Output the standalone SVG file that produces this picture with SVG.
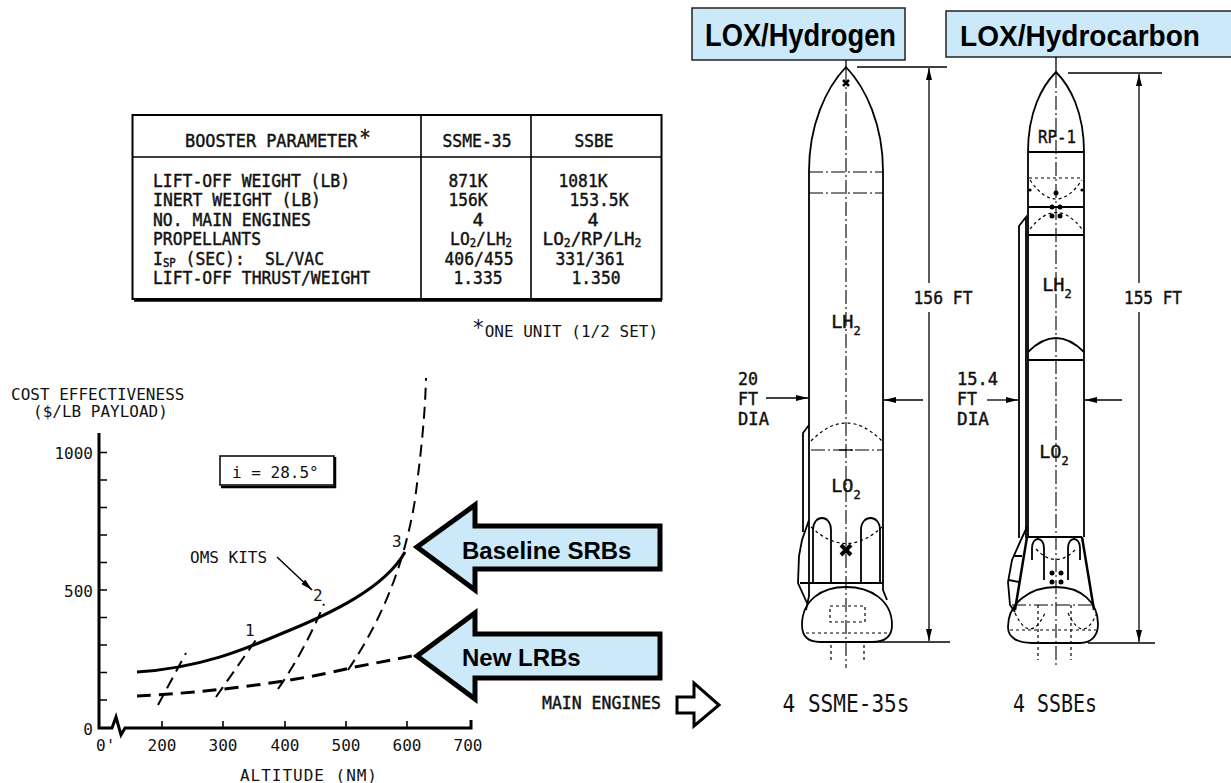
<svg xmlns="http://www.w3.org/2000/svg" width="1231" height="783" viewBox="0 0 1231 783">
<defs>
<style>
.m{font-family:"DejaVu Sans Mono","Liberation Mono",monospace;font-size:16.4px;fill:#111;stroke:#111;stroke-width:0.3px}
.t{font-family:"DejaVu Sans Mono","Liberation Mono",monospace;font-size:18.5px;fill:#111;stroke:#111;stroke-width:0.45px}
.m2{font-family:"DejaVu Sans Mono","Liberation Mono",monospace;font-size:16px;fill:#111}
.mc{text-anchor:middle}
.me{text-anchor:end}
.sub{font-size:12px}
.b{font-family:"Liberation Sans",Arial,sans-serif;font-weight:bold;fill:#000}
.ln{fill:none;stroke:#000;stroke-width:1.8}
.thin{fill:none;stroke:#000;stroke-width:1.3}
.thick{fill:none;stroke:#000;stroke-width:3}
.dash{fill:none;stroke:#000;stroke-width:3;stroke-dasharray:14 8}
.dash2{fill:none;stroke:#000;stroke-width:2;stroke-dasharray:12 7}
.cl{fill:none;stroke:#000;stroke-width:1.1;stroke-dasharray:14 3 2 3}
.dot{fill:none;stroke:#000;stroke-width:1.2;stroke-dasharray:3 3}
.blue{fill:#cce9f9;stroke:#000;stroke-width:5;stroke-linejoin:miter}
.lbl{fill:#cce9f9;stroke:#222;stroke-width:1.5}
.eng{font-family:"DejaVu Sans Mono","Liberation Mono",monospace;font-size:24px;fill:#111}
</style>
<marker id="ah" viewBox="0 0 12 6" refX="12" refY="3" markerWidth="12" markerHeight="6" markerUnits="userSpaceOnUse" orient="auto">
<path d="M0,0 L12,3 L0,6 Z" fill="#000"/>
</marker>
</defs>
<rect x="0" y="0" width="1231" height="783" fill="#fff"/>

<g id="table">
<rect x="132.5" y="115" width="529" height="184" fill="none" stroke="#000" stroke-width="2"/>
<line x1="134" y1="300.5" x2="662" y2="300.5" stroke="#000" stroke-width="2.5"/>
<line x1="132" y1="157" x2="662" y2="157" stroke="#000" stroke-width="1.6"/>
<line x1="421" y1="115" x2="421" y2="299" stroke="#000" stroke-width="1.6"/>
<line x1="531" y1="115" x2="531" y2="299" stroke="#000" stroke-width="1.6"/>
<text class="t" x="0" y="0" transform="translate(185,147) scale(0.912,1)">BOOSTER PARAMETER<tspan font-size="21" dx="2" dy="-2">*</tspan></text>
<text class="t mc" x="477" y="147" textLength="69" lengthAdjust="spacingAndGlyphs">SSME-35</text>
<text class="t mc" x="594" y="147" textLength="39" lengthAdjust="spacingAndGlyphs">SSBE</text>
<text class="t" x="153" y="186.5" textLength="197" lengthAdjust="spacingAndGlyphs">LIFT-OFF WEIGHT (LB)</text>
<text class="t" x="153" y="206" textLength="168" lengthAdjust="spacingAndGlyphs">INERT WEIGHT (LB)</text>
<text class="t" x="153" y="225.5" textLength="158" lengthAdjust="spacingAndGlyphs">NO. MAIN ENGINES</text>
<text class="t" x="153" y="245" textLength="108" lengthAdjust="spacingAndGlyphs">PROPELLANTS</text>
<text class="t" x="0" y="0" transform="translate(153,264.5) scale(0.888,1)">I<tspan class="sub" dy="2">SP</tspan><tspan dy="-2"> (SEC):</tspan></text>
<text class="t" x="265" y="264.5" textLength="59" lengthAdjust="spacingAndGlyphs">SL/VAC</text>
<text class="t" x="153" y="284" textLength="217" lengthAdjust="spacingAndGlyphs">LIFT-OFF THRUST/WEIGHT</text>
<text class="t mc" x="468" y="186.5" textLength="39" lengthAdjust="spacingAndGlyphs">871K</text>
<text class="t mc" x="468" y="206" textLength="39" lengthAdjust="spacingAndGlyphs">156K</text>
<text class="t mc" x="478" y="225.5">4</text>
<text class="t mc" x="0" y="0" transform="translate(481,245) scale(0.883,1)">LO<tspan class="sub" dy="2">2</tspan><tspan dy="-2">/LH</tspan><tspan class="sub" dy="2">2</tspan></text>
<text class="t mc" x="479" y="264.5" textLength="69" lengthAdjust="spacingAndGlyphs">406/455</text>
<text class="t mc" x="478" y="284" textLength="49" lengthAdjust="spacingAndGlyphs">1.335</text>
<text class="t mc" x="583" y="186.5" textLength="49" lengthAdjust="spacingAndGlyphs">1081K</text>
<text class="t mc" x="599" y="206" textLength="59" lengthAdjust="spacingAndGlyphs">153.5K</text>
<text class="t mc" x="593" y="225.5">4</text>
<text class="t mc" x="0" y="0" transform="translate(592,245) scale(0.956,1)">LO<tspan class="sub" dy="2">2</tspan><tspan dy="-2">/RP/LH</tspan><tspan class="sub" dy="2">2</tspan></text>
<text class="t mc" x="590" y="264.5" textLength="69" lengthAdjust="spacingAndGlyphs">331/361</text>
<text class="t mc" x="596" y="284" textLength="49" lengthAdjust="spacingAndGlyphs">1.350</text>
<text class="m2" x="472" y="337"><tspan font-size="21" dy="-2">*</tspan><tspan dy="2">ONE UNIT (1/2 SET)</tspan></text>
</g>

<g id="chart">
<text class="m2" x="11" y="400">COST EFFECTIVENESS</text>
<text class="m2" x="33" y="417">($/LB PAYLOAD)</text>
<path class="thick" d="M99,433 L99,728 L112,728 L116,717 L121,735 L125,728 L471,728 L471,720"/>
<path fill="none" stroke="#000" stroke-width="1.6" d="M99,452.5 h8 M99,480 h8 M99,507.5 h8 M99,535 h8 M99,562.5 h8 M99,590 h8 M99,617.5 h8 M99,645 h8 M99,672.5 h8 M99,700 h8 M162,728 v-7 M223,728 v-7 M285,728 v-7 M346,728 v-7 M407,728 v-7"/>
<text class="m2 me" x="93" y="459">1000</text>
<text class="m2 me" x="93" y="597">500</text>
<text class="m2 me" x="93" y="735">0</text>
<text class="m2" x="96" y="751">0'</text>
<text class="m2 mc" x="162" y="751">200</text>
<text class="m2 mc" x="223" y="751">300</text>
<text class="m2 mc" x="285" y="751">400</text>
<text class="m2 mc" x="346" y="751">500</text>
<text class="m2 mc" x="407" y="751">600</text>
<text class="m2 mc" x="468" y="751">700</text>
<text class="m2" x="240" y="781" textLength="137">ALTITUDE (NM)</text>
<rect x="220" y="456" width="114" height="29" fill="#fff" stroke="#000" stroke-width="1.5"/>
<path fill="none" stroke="#000" stroke-width="2.5" d="M335,457 L335,487 L221,487"/>
<text class="m2" x="232" y="478">i = 28.5°</text>
<path class="thick" d="M137,672 C200,668 243,650 283,633 C330,614 385,588 405,552"/>
<path class="dash" d="M137,696 C200,693 290,683 350,668 L417,655"/>
<path class="dash2" d="M158,705 L186,653"/>
<path class="dash2" d="M216,697 L258,637"/>
<path class="dash2" d="M278,689 Q305,650 324,604"/>
<path class="dash2" d="M348,670 C385,615 405,560 415,500 C420,460 425,420 426,378"/>
<text class="m2" x="245" y="636">1</text>
<text class="m2" x="313" y="601">2</text>
<text class="m2" x="392" y="547">3</text>
<text class="m2" x="190" y="563">OMS KITS</text>
</g>

<g id="connectors">
<line x1="277" y1="557" x2="312" y2="590" stroke="#000" stroke-width="1.5" marker-end="url(#ah)"/>
</g>

<g id="arrow-baseline">
<path class="blue" d="M417,547 L475,505 L475,526 L660,526 L660,569 L475,569 L475,590 Z"/>
<text class="b" x="462" y="559" font-size="24">Baseline SRBs</text>
</g>
<g id="arrow-lrb">
<path class="blue" d="M417,656 L475,613 L475,634 L660,634 L660,678 L475,678 L475,699 Z"/>
<text class="b" x="462" y="666" font-size="24">New LRBs</text>
</g>

<g id="main-engines">
<text class="t" x="542" y="709" font-size="17" textLength="119" lengthAdjust="spacingAndGlyphs">MAIN ENGINES</text>
<path d="M677,697 L694,697 L694,683 L719,705 L694,726 L694,713 L677,713 Z" fill="#fff" stroke="#000" stroke-width="3" stroke-linejoin="miter"/>
</g>

<g id="label-lox-h2">
<rect class="lbl" x="692" y="8" width="213" height="52"/>
<text class="b" x="705" y="46" font-size="32" textLength="191" lengthAdjust="spacingAndGlyphs">LOX/Hydrogen</text>
</g>
<g id="label-lox-hc">
<rect class="lbl" x="946" y="11" width="290" height="46"/>
<text class="b" x="960" y="46" font-size="29" textLength="240" lengthAdjust="spacingAndGlyphs">LOX/Hydrocarbon</text>
</g>

<g id="rocket-ssme">
<line class="thin" x1="846" y1="60" x2="846" y2="70"/>
<line class="cl" x1="846" y1="70" x2="846" y2="668"/>
<path class="ln" d="M809,171 C809,125 826,88 846,67 C866,88 883,125 883,171"/>
<path class="ln" d="M809,171 L809,596 L806,610 M883,171 L883,590 L887,600"/>
<path d="M843,80 l6,6 m0,-6 l-6,6" stroke="#000" stroke-width="2.5"/>
<line class="cl" x1="809" y1="172" x2="883" y2="172"/>
<line class="cl" x1="809" y1="193" x2="883" y2="193"/>
<path class="dot" d="M811,441 Q846,405 882,441"/>
<line class="cl" x1="811" y1="450" x2="882" y2="450"/>
<line class="thin" x1="839" y1="450" x2="853" y2="450"/>
<path class="dot" d="M811,527 Q846,560 882,527"/>
<path d="M841,545 L851,555 M851,545 L841,555" stroke="#000" stroke-width="4"/>
<path class="ln" d="M813,583 L813,530 C813,514 831,514 831,530 L831,583 M861,583 L861,530 C861,514 880,514 880,530 L880,583"/>
<line class="ln" x1="800" y1="583" x2="883" y2="583"/>
<path class="ln" d="M809,425 L803,433 L803,532 M809,520 L802,540 L799,556 L798,583 L807,603"/>
<path class="ln" d="M802,625 C802,600 822,587 846,587 C870,587 892,600 892,625 C892,637 885,642 872,642 L820,642 C808,642 802,637 802,625 Z"/>
<rect class="dot" x="830" y="606" width="35" height="16"/>
<line class="dot" x1="806" y1="633" x2="888" y2="633"/>
<line class="dot" x1="831" y1="645" x2="831" y2="662"/>
<line class="dot" x1="864" y1="645" x2="864" y2="662"/>
<text class="t mc" x="846" y="328">LH<tspan class="sub" dy="7">2</tspan></text>
<text class="t mc" x="846" y="492">LO<tspan class="sub" dy="7">2</tspan></text>
<text class="eng mc" x="846" y="712" textLength="127" lengthAdjust="spacingAndGlyphs">4 SSME-35s</text>
</g>

<g id="dims-ssme">
<line class="thin" x1="857" y1="67" x2="947" y2="67"/>
<line class="thin" x1="929" y1="283" x2="929" y2="68" marker-end="url(#ah)"/>
<line class="thin" x1="929" y1="312" x2="929" y2="641" marker-end="url(#ah)"/>
<line class="thin" x1="873" y1="642" x2="950" y2="642"/>
<text class="t mc" x="943" y="304" textLength="59" lengthAdjust="spacingAndGlyphs">156 FT</text>
<text class="t" x="738" y="385" textLength="20" lengthAdjust="spacingAndGlyphs">20</text>
<text class="t" x="738" y="405" textLength="20" lengthAdjust="spacingAndGlyphs">FT</text>
<text class="t" x="738" y="425" textLength="31" lengthAdjust="spacingAndGlyphs">DIA</text>
<line class="thin" x1="766" y1="398" x2="808" y2="398" marker-end="url(#ah)"/>
<line class="thin" x1="923" y1="400" x2="884" y2="400" marker-end="url(#ah)"/>
</g>

<g id="rocket-ssbe">
<line class="thin" x1="1056" y1="57" x2="1056" y2="74"/>
<line class="cl" x1="1056" y1="74" x2="1056" y2="665"/>
<path class="ln" d="M1028,152 C1028,112 1042,86 1056,72 C1070,86 1084,112 1084,152"/>
<path class="ln" d="M1028,152 L1028,537 M1084,152 L1084,537"/>
<line class="ln" x1="1028" y1="152" x2="1084" y2="152"/>
<line class="dot" x1="1029" y1="178" x2="1083" y2="178"/>
<path class="dot" d="M1030,180 Q1056,218 1082,180"/>
<line class="ln" x1="1028" y1="207" x2="1084" y2="207"/>
<path class="dot" d="M1030,229 Q1056,196 1082,229"/>
<line class="ln" x1="1028" y1="235" x2="1084" y2="235"/>
<circle cx="1056" cy="193" r="2.5"/>
<circle cx="1052" cy="207" r="2.5"/><circle cx="1060" cy="207" r="2.5"/>
<circle cx="1052" cy="216" r="2.5"/><circle cx="1060" cy="216" r="2.5"/>
<circle cx="1030" cy="190" r="1.6"/><circle cx="1082" cy="190" r="1.6"/>
<path class="ln" d="M1028,352 Q1056,324 1084,352"/>
<line class="ln" x1="1028" y1="360" x2="1084" y2="360"/>
<path class="ln" d="M1019,538 L1019,226 L1026,217 L1026,538"/>
<line class="ln" x1="1028" y1="537" x2="1082" y2="537"/>
<path fill="none" stroke="#000" stroke-width="2.5" d="M1027,537 L1015,610 M1082,537 L1094,610"/>
<path class="ln" d="M1032,560 L1032,548 C1032,536 1044,536 1044,548 L1044,580 M1068,580 L1068,548 C1068,536 1080,536 1080,548 L1080,560"/>
<path class="dot" d="M1036,549 Q1056,570 1076,549"/>
<circle cx="1052" cy="573" r="2.5"/><circle cx="1061" cy="573" r="2.5"/>
<circle cx="1052" cy="582" r="2.5"/><circle cx="1061" cy="582" r="2.5"/>
<path class="ln" d="M1008,627 C1008,603 1030,587 1056,587 C1082,587 1098,603 1098,624 C1098,637 1090,643 1080,643 L1032,643 C1018,643 1008,638 1008,627 Z"/>
<line class="cl" x1="1012" y1="605" x2="1094" y2="605"/>
<line class="dot" x1="1010" y1="630" x2="1096" y2="630"/>
<path class="dot" d="M1015,613 Q1030,645 1045,613 M1068,613 Q1083,645 1097,613"/>
<line class="dot" x1="1038" y1="605" x2="1038" y2="660"/>
<line class="dot" x1="1071" y1="605" x2="1071" y2="660"/>
<path class="ln" d="M1027,527 L1020,542 L1012,560 L1008,582 L1010,605 L1015,612 M1013,556 L1022,556 M1009,580 L1019,582"/>
<text class="t mc" x="1057" y="143" textLength="38" lengthAdjust="spacingAndGlyphs">RP-1</text>
<text class="t mc" x="1057" y="291">LH<tspan class="sub" dy="7">2</tspan></text>
<text class="t mc" x="1054" y="458">LO<tspan class="sub" dy="7">2</tspan></text>
<text class="eng mc" x="1055" y="712" textLength="84" lengthAdjust="spacingAndGlyphs">4 SSBEs</text>
</g>

<g id="dims-ssbe">
<line class="thin" x1="1068" y1="73" x2="1162" y2="73"/>
<line class="thin" x1="1139" y1="283" x2="1139" y2="74" marker-end="url(#ah)"/>
<line class="thin" x1="1139" y1="312" x2="1139" y2="642" marker-end="url(#ah)"/>
<line class="thin" x1="1088" y1="643" x2="1155" y2="643"/>
<text class="t mc" x="1153" y="304" textLength="58" lengthAdjust="spacingAndGlyphs">155 FT</text>
<text class="t" x="957" y="385" textLength="41" lengthAdjust="spacingAndGlyphs">15.4</text>
<text class="t" x="957" y="405" textLength="20" lengthAdjust="spacingAndGlyphs">FT</text>
<text class="t" x="957" y="425" textLength="32" lengthAdjust="spacingAndGlyphs">DIA</text>
<line class="thin" x1="987" y1="400" x2="1018" y2="400" marker-end="url(#ah)"/>
<line class="thin" x1="1122" y1="400" x2="1085" y2="400" marker-end="url(#ah)"/>
</g>
</svg>
